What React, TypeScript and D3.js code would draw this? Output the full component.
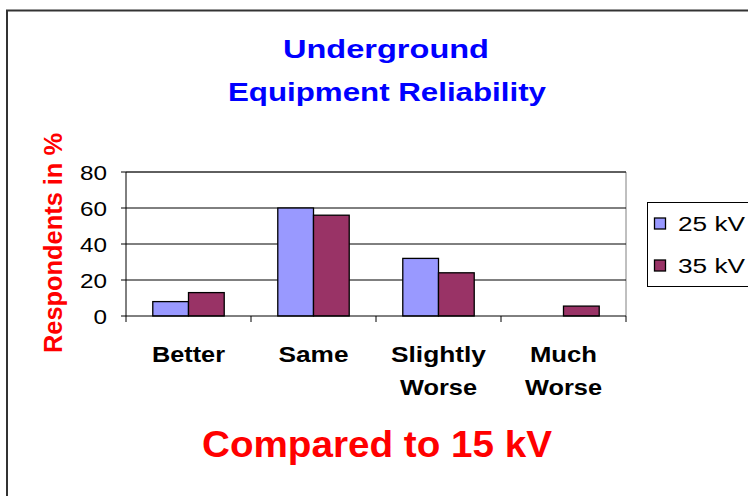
import React from "react";
import * as d3 from "d3";

const categories = [["Better"], ["Same"], ["Slightly", "Worse"], ["Much", "Worse"]];
const seriesNames = ["25 kV", "35 kV"];
const values25 = [8, 60, 32, 0];
const values35 = [13, 56, 24, 5.5];
const yTicks = [0, 20, 40, 60, 80];
const colors = ["#9999FF", "#993366"];

// measured label widths (style only)
const catWidths: Record<string, number> = { Better: 73, Same: 70, Slightly: 95, Worse: 77, Much: 67 };

export default function App() {
  const W = 748, H = 496;
  const left = 126, right = 626, top = 172, bottom = 316;
  const x = d3.scaleBand<number>().domain(d3.range(categories.length)).range([left, right]);
  const y = d3.scaleLinear().domain([0, 80]).range([bottom, top]);
  const barW = x.bandwidth() / 3.5;
  const series = [values25, values35];
  const font = "Arial, 'Liberation Sans', sans-serif";

  return (
    <svg width={W} height={H} style={{ position: "absolute", left: 0, top: 0, background: "#fff" }} fontFamily={font}>
      <rect x={7} y={10.5} width={900} height={700} fill="#fff" stroke="#333" strokeWidth={2} />
      <text x={386} y={58} textAnchor="middle" fill="#0000FF" fontWeight="bold" fontSize={26}
        textLength={206} lengthAdjust="spacingAndGlyphs">Underground</text>
      <text x={387} y={101} textAnchor="middle" fill="#0000FF" fontWeight="bold" fontSize={26}
        textLength={318} lengthAdjust="spacingAndGlyphs">Equipment Reliability</text>

      {/* plot frame */}
      <line x1={left} x2={right} y1={top} y2={top} stroke="#808080" />
      <line x1={right} x2={right} y1={top} y2={bottom} stroke="#808080" />
      {yTicks.filter(t => t > 0).map(t => (
        <line key={t} x1={left} x2={right} y1={y(t)} y2={y(t)} stroke="#000" strokeWidth={1} />
      ))}

      {series.map((vals, si) =>
        vals.map((v, ci) => (
          v > 0 ? (
            <rect key={`${si}-${ci}`} x={(x(ci) as number) + barW * 0.75 + si * barW} y={y(v)}
              width={barW} height={y(0) - y(v)} fill={colors[si]} stroke="#000" strokeWidth={1.3} />
          ) : null
        ))
      )}

      {/* axes */}
      <line x1={left} x2={left} y1={top} y2={bottom} stroke="#000" />
      <line x1={left} x2={right} y1={bottom} y2={bottom} stroke="#000" />
      {yTicks.map(t => (
        <g key={t}>
          <line x1={left - 5} x2={left} y1={y(t)} y2={y(t)} stroke="#000" />
          <text x={107} y={y(t) + 7.5} textAnchor="end" fontSize={20} fill="#000"
            textLength={String(t).length * 13.5} lengthAdjust="spacingAndGlyphs">{t}</text>
        </g>
      ))}
      {d3.range(categories.length + 1).map(i => (
        <line key={i} x1={left + i * x.step()} x2={left + i * x.step()} y1={bottom} y2={bottom + 6} stroke="#000" />
      ))}
      {categories.map((lines, i) => (
        lines.map((l, j) => (
          <text key={`${i}-${j}`} x={(x(i) as number) + x.bandwidth() / 2} y={362 + j * 33}
            textAnchor="middle" fontWeight="bold" fontSize={22} fill="#000"
            textLength={catWidths[l]} lengthAdjust="spacingAndGlyphs">{l}</text>
        ))
      ))}

      <text transform={`translate(62,243) rotate(-90)`} textAnchor="middle" fill="#FF0000" fontWeight="bold" fontSize={25}
        textLength={220} lengthAdjust="spacingAndGlyphs">Respondents in %</text>

      <text x={377} y={457} textAnchor="middle" fill="#FF0000" fontWeight="bold" fontSize={36}
        textLength={350} lengthAdjust="spacingAndGlyphs">Compared to 15 kV</text>

      {/* legend */}
      <rect x={647.5} y={202.5} width={120} height={84} fill="#fff" stroke="#000" />
      {seriesNames.map((n, i) => (
        <g key={n}>
          <rect x={654.5} y={218 + i * 42} width={11} height={11} fill={colors[i]} stroke="#000" strokeWidth={1.3} />
          <text x={678} y={231 + i * 42} fontSize={20} fill="#000"
            textLength={67} lengthAdjust="spacingAndGlyphs">{n}</text>
        </g>
      ))}
    </svg>
  );
}
